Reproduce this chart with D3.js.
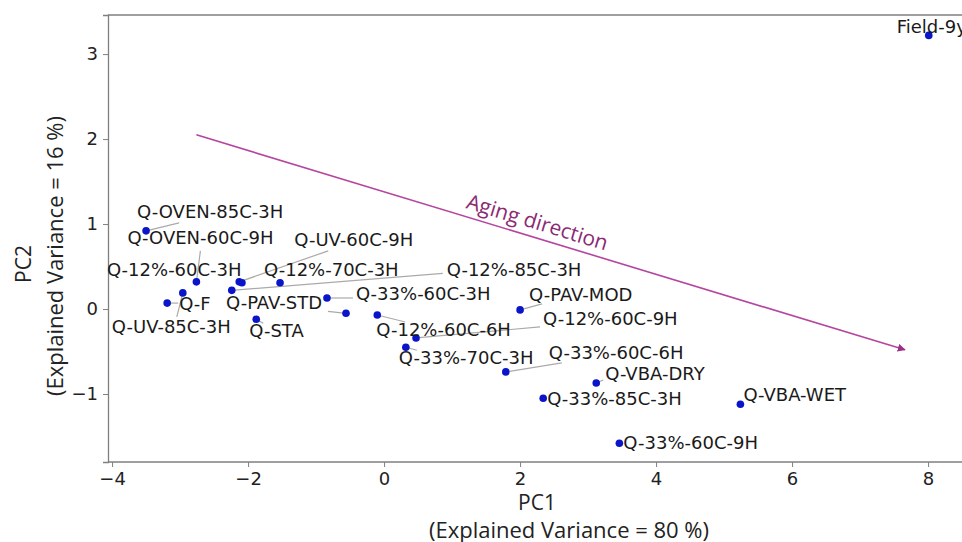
<!DOCTYPE html>
<html>
<head>
<meta charset="utf-8">
<script src="https://cdn.jsdelivr.net/npm/d3@7"></script>
<style>
  html, body { margin: 0; padding: 0; background: #fff; overflow: hidden; }
  svg { display: block; }
</style>
</head>
<body>
<div id="chart"></div>
<script>
// sample names and their PCA scores
const names = ['Field-9y', 'Q-OVEN-85C-3H', 'Q-OVEN-60C-9H', 'Q-UV-60C-9H', 'Q-12%-60C-3H',
  'Q-12%-70C-3H', 'Q-12%-85C-3H', 'Q-F', 'Q-UV-85C-3H', 'Q-PAV-STD', 'Q-33%-60C-3H',
  'Q-STA', 'Q-12%-60C-6H', 'Q-12%-60C-9H', 'Q-33%-70C-3H', 'Q-PAV-MOD', 'Q-33%-60C-6H',
  'Q-VBA-DRY', 'Q-33%-85C-3H', 'Q-33%-60C-9H', 'Q-VBA-WET']
const pc1 = [8.01, -3.50, -2.76, -2.13, -2.09, -1.53, -2.24, -3.19, -2.96, -0.56, -0.84,
  -1.88, -0.10, 0.47, 0.32, 2.00, 1.79, 3.12, 2.34, 3.46, 5.24]
const pc2 = [3.22, 0.92, 0.32, 0.32, 0.31, 0.31, 0.22, 0.07, 0.19, -0.05, 0.13,
  -0.12, -0.07, -0.34, -0.45, -0.01, -0.74, -0.87, -1.05, -1.58, -1.12]
const xTicks = [-4, -2, 0, 2, 4, 6, 8]
const yTicks = [-1, 0, 1, 2, 3]
// aging arrow, in PC units
const arrowFrom = [-2.76, 2.05]
const arrowTo = [7.66, -0.48]

// label placement (px offset of text left/middle from the point), and leader ends
const labelOffset = [[-32, -9], [-9, -19], [-69, -44], [55, -42], [-135, -13],
  [-16, -13], [215, -21], [12, 0], [-71, 34], [-120, -11], [29, -4],
  [-7, 11], [-1, 15], [127, -19], [-7, 10], [9, -15], [43, -19],
  [9, -9], [4, 0], [4, -1], [3, -10]]
const leaderEnd = [null, [33, -8], [4, -31], [89, -31], null,
  null, [211, -17], [11, 0], [-6, 24], [-18, -2], [26, 0],
  [7, 4], [28, 7], [124, -11], [11, 3], [22, -6], [56, -9],
  [7, -3], null, null, null]

const W = 962
const H = 542
const padLeft = 108, padTop = 15, plotBottom = 462

const x = d3.scaleLinear().domain([-4.06, 8.7]).range([padLeft, padLeft + 12.76 * 68])
const y = d3.scaleLinear().domain([-1.8, 3.46]).range([plotBottom, padTop])

const svg = d3.select('#chart').append('svg')
  .attr('width', W)
  .attr('height', H)
  .style('font-family', 'DejaVu Sans, sans-serif')

const axisColor = '#7f7f7f'

// frame (right spine is off the picture)
svg.append('line')
  .attr('x1', padLeft).attr('x2', W + 10).attr('y1', padTop).attr('y2', padTop)
  .style('stroke', axisColor).style('stroke-width', 1.3)

const gx = svg.append('g')
  .attr('transform', `translate(0,${plotBottom})`)
  .call(d3.axisBottom(x).tickValues(xTicks).tickSize(5).tickPadding(5).tickFormat(d3.format('')))
const gy = svg.append('g')
  .attr('transform', `translate(${padLeft},0)`)
  .call(d3.axisLeft(y).tickValues(yTicks).tickSize(5).tickPadding(5).tickFormat(d3.format('')))

for (const g of [gx, gy]) {
  g.select('.domain').style('stroke', axisColor).style('stroke-width', 1.3)
  g.selectAll('.tick line').style('stroke', axisColor)
  g.selectAll('.tick text')
    .style('font-family', 'DejaVu Sans, sans-serif')
    .style('font-size', '18px')
    .style('fill', '#222')
    .text(d => d < 0 ? '\u2212' + Math.abs(d) : d)
}
gx.select('.domain').attr('d', `M${padLeft},0H${W + 10}`)

// axis titles
const titleFont = '"Open Sans", "Noto Sans", sans-serif'
svg.append('text')
  .attr('x', 537).attr('y', 510)
  .attr('text-anchor', 'middle')
  .style('font-family', titleFont).style('font-size', '21px').style('fill', '#222')
  .text('PC1')
svg.append('text')
  .attr('x', 569).attr('y', 538)
  .attr('text-anchor', 'middle')
  .style('font-family', titleFont).style('font-size', '22px').style('fill', '#222')
  .text('(Explained Variance = 80 %)')
svg.append('text')
  .attr('transform', 'translate(31,264) rotate(-90)')
  .attr('text-anchor', 'middle')
  .style('font-family', titleFont).style('font-size', '21px').style('fill', '#222')
  .text('PC2')
svg.append('text')
  .attr('transform', 'translate(63,256) rotate(-90)')
  .attr('text-anchor', 'middle')
  .style('font-family', titleFont).style('font-size', '22px').style('fill', '#222')
  .text('(Explained Variance = 16 %)')

// aging direction arrow
const arrowColor = '#b5459f'
svg.append('defs').append('marker')
  .attr('id', 'head')
  .attr('viewBox', '0 0 10 10')
  .attr('refX', 9).attr('refY', 5)
  .attr('markerWidth', 5).attr('markerHeight', 5)
  .attr('orient', 'auto')
  .append('path')
  .attr('d', 'M0,0L10,5L0,10z')
  .style('fill', '#9c2f86')

const ax1 = x(arrowFrom[0]), ay1 = y(arrowFrom[1])
const ax2 = x(arrowTo[0]), ay2 = y(arrowTo[1])
svg.append('line')
  .attr('x1', ax1).attr('y1', ay1).attr('x2', ax2).attr('y2', ay2)
  .style('stroke', arrowColor).style('stroke-width', 1.6)
  .attr('marker-end', 'url(#head)')

const ang = Math.atan2(ay2 - ay1, ax2 - ax1) * 180 / Math.PI
const t = 0.475
const tx = ax1 + (ax2 - ax1) * t
const ty = ay1 + (ay2 - ay1) * t
svg.append('text')
  .attr('transform', `translate(${tx},${ty}) rotate(${ang}) translate(0,-8)`)
  .attr('text-anchor', 'middle')
  .style('font-family', titleFont).style('font-size', '21px').style('fill', '#8c2a74')
  .text('Aging direction')

// leader lines
const idx = d3.range(names.length)
svg.append('g').selectAll('line')
  .data(idx.filter(i => leaderEnd[i]))
  .enter()
  .append('line')
  .attr('x1', i => x(pc1[i]))
  .attr('y1', i => y(pc2[i]))
  .attr('x2', i => x(pc1[i]) + leaderEnd[i][0])
  .attr('y2', i => y(pc2[i]) + leaderEnd[i][1])
  .style('stroke', '#aaa')
  .style('stroke-width', 1.2)

// points
svg.append('g').selectAll('circle')
  .data(idx)
  .enter()
  .append('circle')
  .attr('cx', i => x(pc1[i]))
  .attr('cy', i => y(pc2[i]))
  .attr('r', 3.8)
  .style('fill', '#0a14c8')

// labels
svg.append('g').selectAll('text')
  .data(idx)
  .enter()
  .append('text')
  .attr('x', i => x(pc1[i]) + labelOffset[i][0])
  .attr('y', i => y(pc2[i]) + labelOffset[i][1])
  .attr('dy', '0.36em')
  .style('font-size', '18px')
  .style('fill', '#1a1a1a')
  .text(i => names[i])
</script>
</body>
</html>
